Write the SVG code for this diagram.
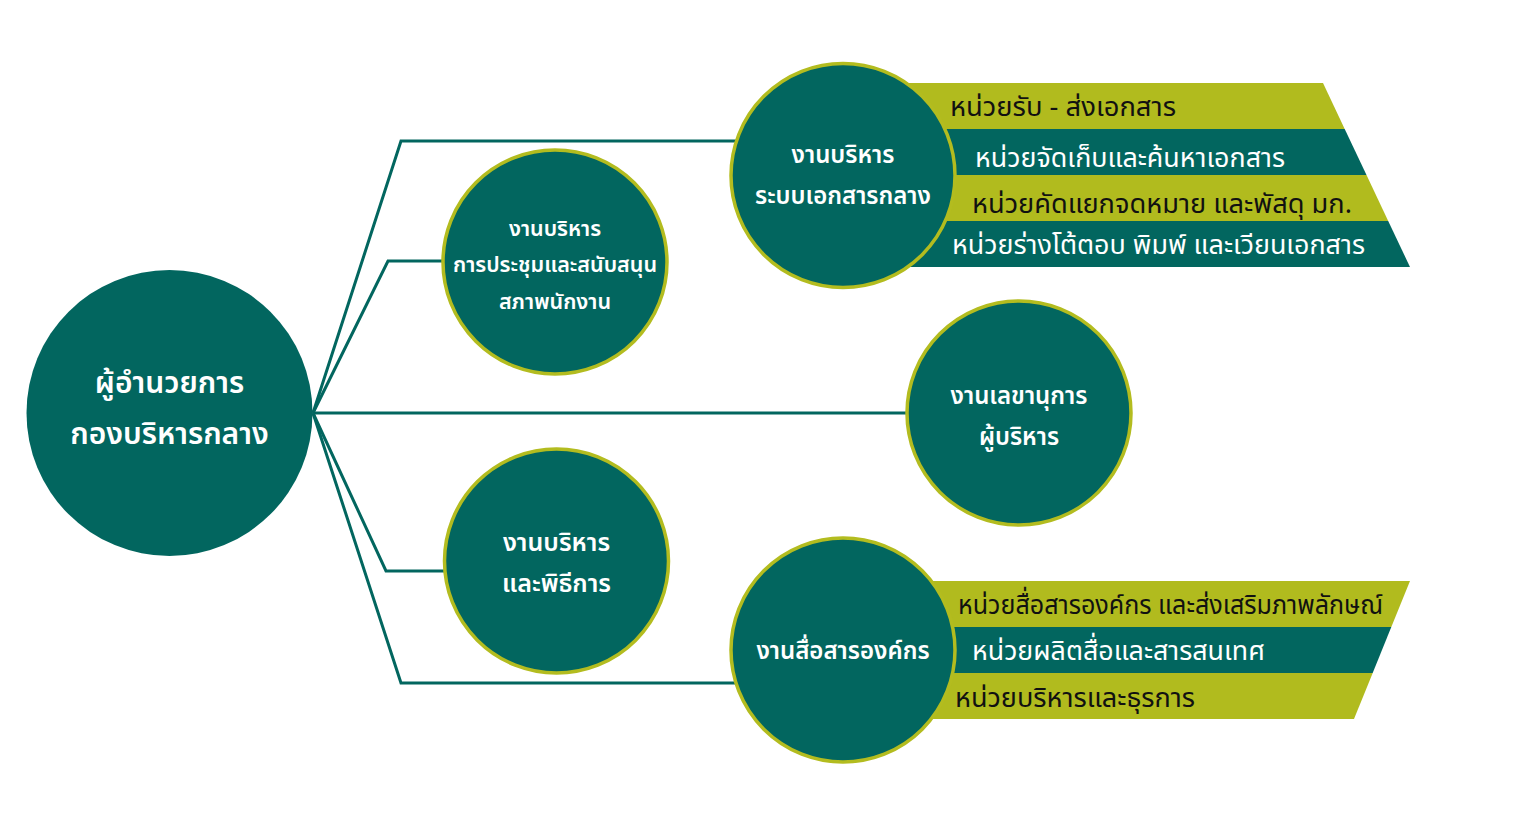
<svg xmlns="http://www.w3.org/2000/svg" width="1536" height="825" viewBox="0 0 1536 825">
<style>
.node{fill:#02665f;stroke:#b3bc1f;stroke-width:3.5}
.main{fill:#02665f}
.band-y{fill:#b1bb1e}
.band-t{fill:#02665f}
.conn{fill:none;stroke:#02665f;stroke-width:3}
text{font-family:"Noto Sans Thai","Noto Sans Thai UI","Noto Sans","DejaVu Sans",sans-serif}
.nt{fill:#ffffff;text-anchor:middle;font-weight:600}
.bt-dark{fill:#111111;font-size:27px}
.bt-light{fill:#ffffff;font-size:27px}
</style>
<rect width="1536" height="825" fill="#ffffff"/>
<g id="connectors">
<polyline class="conn" points="313,413 401,141 736,141"/>
<polyline class="conn" points="313,413 388,261 444,261"/>
<polyline class="conn" points="313,413 906,413"/>
<polyline class="conn" points="313,413 386,571 444,571"/>
<polyline class="conn" points="313,413 401,683 736,683"/>
</g>
<g id="main">
<circle class="main" cx="169.5" cy="413" r="143"/>
<text class="nt" x="169.5" y="393" font-size="30">ผู้อำนวยการ</text>
<text class="nt" x="169.5" y="444" font-size="30">กองบริหารกลาง</text>
</g>
<g id="node-meeting">
<circle class="node" cx="555" cy="262" r="112"/>
<text class="nt" x="555" y="236" font-size="21.5">งานบริหาร</text>
<text class="nt" x="555" y="272" font-size="21.5">การประชุมและสนับสนุน</text>
<text class="nt" x="555" y="309" font-size="21.5">สภาพนักงาน</text>
</g>
<g id="node-ceremony">
<circle class="node" cx="556.5" cy="561" r="112"/>
<text class="nt" x="556.5" y="551" font-size="25">งานบริหาร</text>
<text class="nt" x="556.5" y="592" font-size="25">และพิธีการ</text>
</g>
<g id="bands-docs">
<polygon class="band-y" points="843,83 1323,83 1344.7,129 843,129"/>
<polygon class="band-t" points="843,129 1344.7,129 1366.5,175 843,175"/>
<polygon class="band-y" points="843,175 1366.5,175 1388.2,221 843,221"/>
<polygon class="band-t" points="843,221 1388.2,221 1410,267 843,267"/>
<text class="bt-dark" x="950" y="116" textLength="226" lengthAdjust="spacingAndGlyphs">หน่วยรับ - ส่งเอกสาร</text>
<text class="bt-light" x="975" y="167" textLength="310" lengthAdjust="spacingAndGlyphs">หน่วยจัดเก็บและค้นหาเอกสาร</text>
<text class="bt-dark" x="972" y="213" textLength="380" lengthAdjust="spacingAndGlyphs">หน่วยคัดแยกจดหมาย และพัสดุ มก.</text>
<text class="bt-light" x="952" y="254" textLength="413" lengthAdjust="spacingAndGlyphs">หน่วยร่างโต้ตอบ พิมพ์ และเวียนเอกสาร</text>
</g>
<g id="node-docs">
<circle class="node" cx="843" cy="175.5" r="112"/>
<text class="nt" x="843" y="163" font-size="24">งานบริหาร</text>
<text class="nt" x="843" y="204" font-size="24">ระบบเอกสารกลาง</text>
</g>
<g id="node-secretary">
<circle class="node" cx="1019" cy="413" r="112"/>
<text class="nt" x="1019" y="404" font-size="24">งานเลขานุการ</text>
<text class="nt" x="1019" y="445" font-size="24">ผู้บริหาร</text>
</g>
<g id="bands-comm">
<polygon class="band-y" points="843,581 1410,581 1391.3,627 843,627"/>
<polygon class="band-t" points="843,627 1391.3,627 1372.7,673 843,673"/>
<polygon class="band-y" points="843,673 1372.7,673 1354,719 843,719"/>
<text class="bt-dark" x="958" y="614" textLength="425" lengthAdjust="spacingAndGlyphs">หน่วยสื่อสารองค์กร และส่งเสริมภาพลักษณ์</text>
<text class="bt-light" x="972" y="660" textLength="293" lengthAdjust="spacingAndGlyphs">หน่วยผลิตสื่อและสารสนเทศ</text>
<text class="bt-dark" x="955" y="707" textLength="240" lengthAdjust="spacingAndGlyphs">หน่วยบริหารและธุรการ</text>
</g>
<g id="node-comm">
<circle class="node" cx="843" cy="650" r="112"/>
<text class="nt" x="843" y="659" font-size="24">งานสื่อสารองค์กร</text>
</g>
</svg>
